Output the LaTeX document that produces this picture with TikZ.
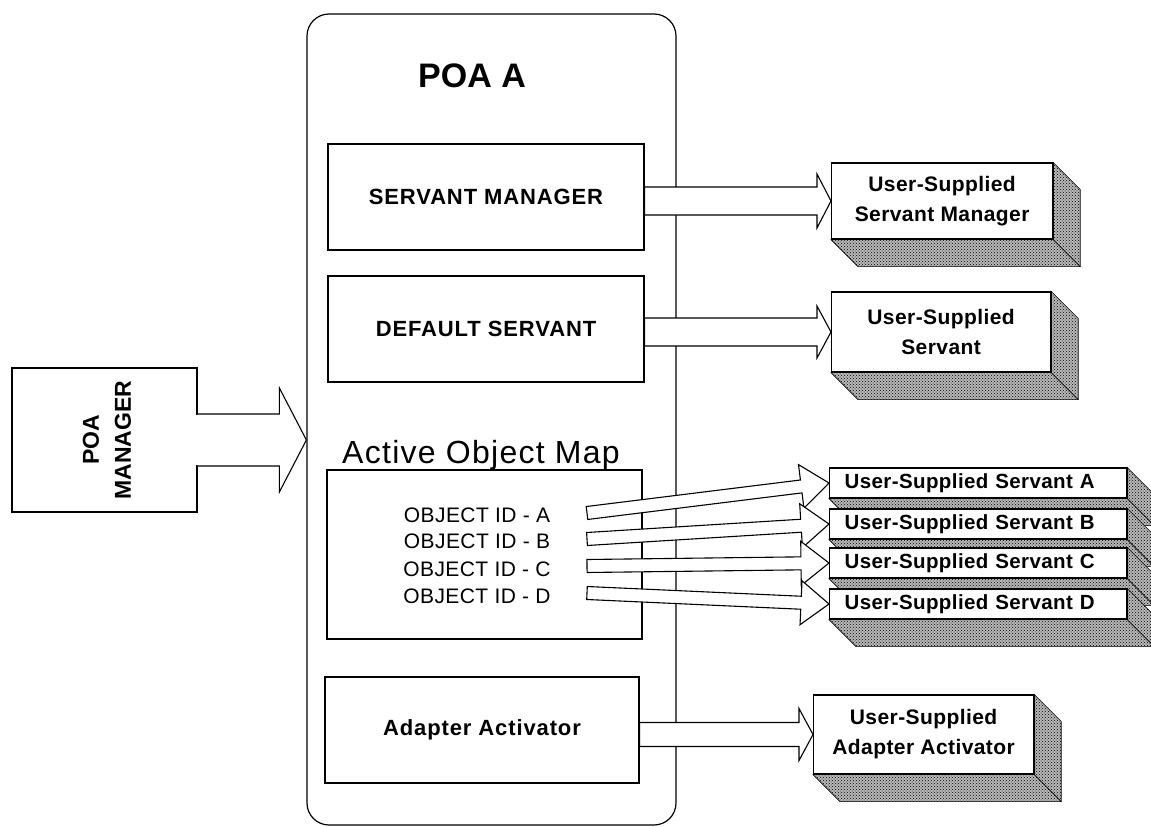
\documentclass[tikz,border=0pt]{standalone}
\usepackage{fontspec}
\setmainfont{Liberation Sans}
\usetikzlibrary{calc,patterns}

\tikzset{
  frame/.style={draw, line width=1.2pt, inner sep=0pt},
  ibox/.style={frame, fill=white, align=center,
    font=\bfseries\fontsize{22}{26}\selectfont\addfontfeatures{LetterSpace=4}},
  ubox/.style={frame, fill=white, align=center,
    font=\bfseries\fontsize{21}{30}\selectfont\addfontfeatures{LetterSpace=2}},
  sbox/.style={frame, fill=white, minimum width=297, minimum height=30, anchor=west,
    text width=267, align=left, inner xsep=15pt,
    font=\bfseries\fontsize{20.5}{24}\selectfont\addfontfeatures{LetterSpace=2}},
  oid/.style={anchor=base, font=\fontsize{21}{25}\selectfont\addfontfeatures{LetterSpace=2}},
  fatarrow/.style={draw, line width=1.1pt, fill=white, line join=miter},
  depth/.style={preaction={fill=black!28}, pattern=crosshatch dots,
    pattern color=black, draw, line width=.6pt},
}

% block arrow: tail, tip, shaft half width, head half width, head length
\newcommand\closedarrow[5]{%
  \coordinate (ba-h) at ($(#2)!#5!(#1)$);
  \path[fatarrow] ($(#1)!#3!90:(#2)$) -- ($(ba-h)!#3!-90:(#1)$)
    -- ($(ba-h)!#4!-90:(#1)$) -- (#2) -- ($(ba-h)!#4!90:(#1)$)
    -- ($(ba-h)!#3!90:(#1)$) -- ($(#1)!#3!-90:(#2)$) -- cycle;
}

% extruded depth behind a box node
\newcommand\boxdepth[1]{%
  \path[depth] (#1.north east) -- ++(27,27) -- ($(#1.south east)+(27,27)$)
    -- ($(#1.south west)+(27,27)$) -- (#1.south west) -- (#1.south east) -- cycle;
  \draw[line width=.6pt] (#1.south east) -- ++(27,27);
  \draw[line width=1.2pt] (#1.south west) -- (#1.south east) -- (#1.north east);
}

\begin{document}
\begin{tikzpicture}[x=1pt, y=-1pt]
\useasboundingbox (0,0) rectangle (1151,827);

% the POA container
\node[frame, rounded corners=22pt, minimum width=369, minimum height=811] (poa) at (491.5,419.5) {};
\node[font=\bfseries\fontsize{34}{40}\selectfont] (poat) at (472,76) {POA A};

% inner parts of the POA
\node[ibox, minimum width=316, minimum height=106] (sm) at (486,197) {SERVANT MANAGER};
\node[ibox, minimum width=316, minimum height=106] (ds) at (486,329) {DEFAULT SERVANT};
\node[anchor=base, font=\fontsize{32}{36}\selectfont\addfontfeatures{LetterSpace=4}] (aomt) at (481,463) {Active Object Map};
\node[frame, minimum width=315, minimum height=169] (aom) at (484.5,554.5) {};
\node[oid] (oa) at (477,522) {OBJECT ID - A};
\node[oid] (ob) at (477,548) {OBJECT ID - B};
\node[oid] (oc) at (477,576) {OBJECT ID - C};
\node[oid] (od) at (477,603) {OBJECT ID - D};
\node[ibox, minimum width=314, minimum height=106] (aa) at (482,730) {Adapter Activator};

% POA manager with its arrow into the POA
\node[frame, minimum width=185, minimum height=144] (pm) at (104.5,440) {};
\node[rotate=90, align=center, font=\bfseries\fontsize{23}{32}\selectfont] (pmt) at (107,440) {POA\\MANAGER};
\coordinate (pmtip) at (poa.west |- pm.east);
\fill[white] ($(pm.east)+(-2,-25)$) rectangle ($(pm.east)+(2,25)$);
\draw[line width=1.1pt, line join=miter, fill=white]
  ($(pm.east)+(0,-26)$) -- ($(pmtip)+(-27,-26)$) -- ($(pmtip)+(-27,-52)$) -- (pmtip)
  -- ($(pmtip)+(-27,52)$) -- ($(pmtip)+(-27,26)$) -- ($(pm.east)+(0,26)$);

% user-supplied objects (positions only, drawn after the arrows)
\coordinate (usmw) at (831,201);
\coordinate (usw) at (831,332);
\coordinate (saw) at (829,483);
\coordinate (sbw) at (829,524);
\coordinate (scw) at (829,563);
\coordinate (sdw) at (829,604);
\coordinate (uaaw) at (813,734.5);

% arrows out of the POA
\coordinate (smt) at (sm.east |- usmw);
\coordinate (dst) at (ds.east |- usw);
\coordinate (aat) at (aa.east |- uaaw);
\closedarrow{smt}{usmw}{14pt}{27pt}{14pt}
\closedarrow{dst}{usw}{14pt}{26pt}{14pt}
\closedarrow{aat}{uaaw}{12pt}{26pt}{14pt}

\coordinate (oat) at (587,513);
\coordinate (obt) at (587,539);
\coordinate (oct) at (587,566);
\coordinate (odt) at (587,593);
\closedarrow{oat}{saw}{6.5pt}{22pt}{28pt}
\closedarrow{obt}{sbw}{6.5pt}{22pt}{28pt}
\closedarrow{oct}{scw}{6.5pt}{22pt}{28pt}
\closedarrow{odt}{sdw}{6.5pt}{22pt}{28pt}

% user-supplied boxes with depth
\node[ubox, minimum width=221, minimum height=76, anchor=west] (usm) at (usmw) {User-Supplied\\Servant Manager};
\boxdepth{usm}
\node[ubox, minimum width=219, minimum height=80, anchor=west] (us) at (usw) {User-Supplied\\Servant};
\boxdepth{us}
\node[sbox] (sa) at (saw) {User-Supplied Servant A};
\boxdepth{sa}
\node[sbox] (sb) at (sbw) {User-Supplied Servant B};
\boxdepth{sb}
\node[sbox] (sc) at (scw) {User-Supplied Servant C};
\boxdepth{sc}
\node[sbox] (sd) at (sdw) {User-Supplied Servant D};
\boxdepth{sd}
\node[ubox, minimum width=220, minimum height=79, anchor=west] (uaa) at (uaaw) {User-Supplied\\Adapter Activator};
\boxdepth{uaa}
\end{tikzpicture}
\end{document}
